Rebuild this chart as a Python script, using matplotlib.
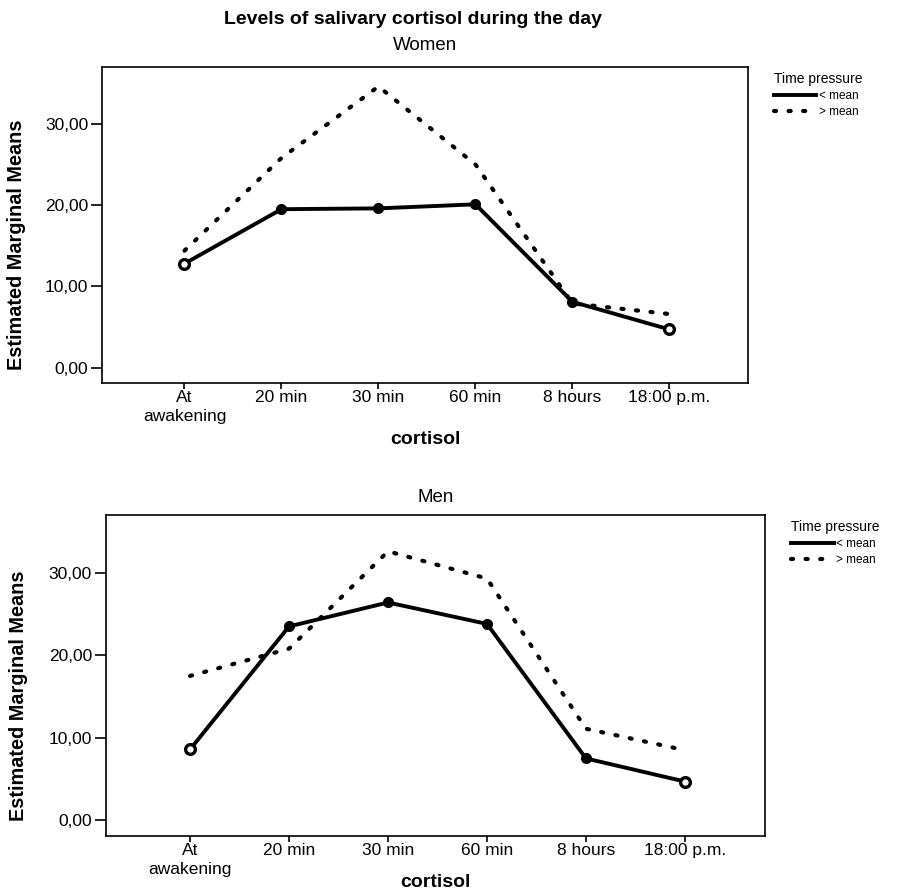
import matplotlib
matplotlib.use('Agg')
import matplotlib.pyplot as plt
from matplotlib.lines import Line2D
from matplotlib.ticker import FuncFormatter

plt.rcParams['font.family'] = ['Liberation Sans', 'DejaVu Sans']

# cortisol sampling times
times = ['At\nawakening', '20 min', '30 min', '60 min', '8 hours', '18:00 p.m.']

# estimated marginal means, women
women_below = [12.8, 19.5, 19.6, 20.1, 8.1, 4.7]
women_above = [14.4, 25.8, 34.6, 25.0, 7.9, 6.6]

# estimated marginal means, men
men_below = [8.6, 23.5, 26.4, 23.8, 7.5, 4.7]
men_above = [17.5, 20.8, 32.6, 29.3, 11.1, 8.5]

yticks = [0, 10, 20, 30]
DOTS = (0, (0.5, 3.0))


def comma_fmt(v, pos):
    return f'{v:.2f}'.replace('.', ',')


def draw_panel(ax, title, below, above, title_pad, xlab_y, leg_anchor):
    x = list(range(len(times)))
    ax.plot(x, below, color='black', lw=2.8, marker='o', ms=7,
            markevery=[1, 2, 3, 4], solid_joinstyle='round')
    ax.plot(x, below, color='none', marker='o', ms=7, mfc='white',
            mec='black', mew=2.4, markevery=[0, 5])
    ax.plot(x, above, color='black', lw=3.0, linestyle=DOTS,
            dash_capstyle='round')
    ax.set_xlim(-0.85, 5.81)
    ax.set_ylim(-1.9, 37.0)
    ax.set_xticks(x)
    ax.set_xticklabels(times, fontsize=12.5, linespacing=1.35)
    ax.set_yticks(yticks)
    ax.yaxis.set_major_formatter(FuncFormatter(comma_fmt))
    ax.tick_params(axis='y', labelsize=12.5, length=8, width=1.2, pad=2)
    ax.tick_params(axis='x', length=4, width=1.2, pad=1)
    for s in ax.spines.values():
        s.set_linewidth(1.2)
    ax.set_title(title, fontsize=13.5, pad=title_pad)
    ax.set_xlabel('cortisol', fontsize=14, fontweight='bold')
    ax.xaxis.set_label_coords(0.5, xlab_y)
    ax.set_ylabel('Estimated Marginal Means', fontsize=14.3,
                  fontweight='bold')
    ax.yaxis.set_label_coords(-0.118, 0.437)
    handles = [Line2D([], [], color='black', lw=2.8),
               Line2D([], [], color='black', lw=3.0, linestyle=DOTS,
                      dash_capstyle='round')]
    leg = ax.legend(handles, ['< mean', '> mean'], title='Time pressure',
                    loc='upper left', bbox_to_anchor=leg_anchor,
                    frameon=False, fontsize=8.5, title_fontsize=10,
                    handlelength=3.6, handletextpad=0.2, labelspacing=0.35,
                    borderaxespad=0, borderpad=0)
    leg._legend_box.align = 'left'


fig = plt.figure(figsize=(8.98, 8.93), dpi=100)
ax1 = fig.add_axes([0.1136, 0.571, 0.7194, 0.354])
ax2 = fig.add_axes([0.118, 0.0638, 0.734, 0.3595])

draw_panel(ax1, 'Women', women_below, women_above, 12, -0.15, (1.04, 0.985))
draw_panel(ax2, 'Men', men_below, men_above, 9.5, -0.118, (1.04, 0.985))

fig.text(0.46, 0.978, 'Levels of salivary cortisol during the day',
         ha='center', va='center', fontsize=14, fontweight='bold')

fig.savefig('out.png', dpi=100)
